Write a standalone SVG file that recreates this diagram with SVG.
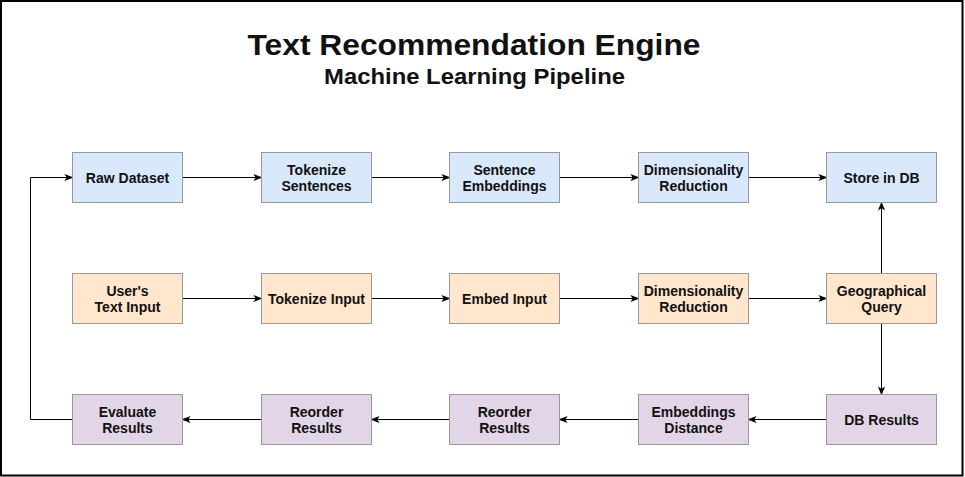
<svg xmlns="http://www.w3.org/2000/svg" width="965" height="477" viewBox="0 0 965 477">
<style>
.n rect{stroke:#999;stroke-width:1}
.b rect{fill:#dae8fc}
.o rect{fill:#ffe6cc}
.p rect{fill:#e1d5e7}
text{font-family:"Liberation Sans",Arial,sans-serif;font-weight:bold;fill:#111;text-anchor:middle}
.n text{font-size:14px}
.e{fill:none;stroke:#000;stroke-width:1;marker-end:url(#a)}
</style>
<defs>
<marker id="a" viewBox="0 0 10 10" refX="9" refY="5" markerWidth="9" markerHeight="9" markerUnits="userSpaceOnUse" orient="auto">
<path d="M0,1 L10,5 L0,9 L2.5,5 z" fill="#000"/>
</marker>
</defs>
<rect x="1" y="1" width="961.5" height="474.5" fill="#fff" stroke="#000" stroke-width="2"/>
<g id="title">
<text x="474" y="54.5" font-size="29" textLength="453" lengthAdjust="spacingAndGlyphs">Text Recommendation Engine</text>
<text x="474.5" y="84" font-size="22.5" textLength="301" lengthAdjust="spacingAndGlyphs">Machine Learning Pipeline</text>
</g>
<g id="connectors">
<path class="e" d="M182.5,177.5 H261.5"/>
<path class="e" d="M371.5,177.5 H449.5"/>
<path class="e" d="M559.5,177.5 H638.5"/>
<path class="e" d="M748.5,177.5 H826.5"/>
<path class="e" d="M182.5,298.5 H261.5"/>
<path class="e" d="M371.5,298.5 H449.5"/>
<path class="e" d="M559.5,298.5 H638.5"/>
<path class="e" d="M748.5,298.5 H826.5"/>
<path class="e" d="M881.5,273.5 V202.5"/>
<path class="e" d="M881.5,323.5 V394.5"/>
<path class="e" d="M826.5,419.5 H748.5"/>
<path class="e" d="M638.5,419.5 H559.5"/>
<path class="e" d="M449.5,419.5 H371.5"/>
<path class="e" d="M261.5,419.5 H182.5"/>
<path class="e" d="M72.5,419.5 H30.5 V177.5 H72.5"/>
</g>
<g id="raw-dataset" class="n b"><rect x="72.5" y="152.5" width="110" height="50"/><text x="127.5" y="182.5">Raw Dataset</text></g>
<g id="tokenize-sentences" class="n b"><rect x="261.5" y="152.5" width="110" height="50"/><text x="316.5" y="174.5">Tokenize</text><text x="316.5" y="190.5">Sentences</text></g>
<g id="sentence-embeddings" class="n b"><rect x="449.5" y="152.5" width="110" height="50"/><text x="504.5" y="174.5">Sentence</text><text x="504.5" y="190.5">Embeddings</text></g>
<g id="dim-reduction-1" class="n b"><rect x="638.5" y="152.5" width="110" height="50"/><text x="693.5" y="174.5">Dimensionality</text><text x="693.5" y="190.5">Reduction</text></g>
<g id="store-in-db" class="n b"><rect x="826.5" y="152.5" width="110" height="50"/><text x="881.5" y="182.5">Store in DB</text></g>
<g id="users-text-input" class="n o"><rect x="72.5" y="273.5" width="110" height="50"/><text x="127.5" y="295.5">User's</text><text x="127.5" y="311.5">Text Input</text></g>
<g id="tokenize-input" class="n o"><rect x="261.5" y="273.5" width="110" height="50"/><text x="316.5" y="303.5">Tokenize Input</text></g>
<g id="embed-input" class="n o"><rect x="449.5" y="273.5" width="110" height="50"/><text x="504.5" y="303.5">Embed Input</text></g>
<g id="dim-reduction-2" class="n o"><rect x="638.5" y="273.5" width="110" height="50"/><text x="693.5" y="295.5">Dimensionality</text><text x="693.5" y="311.5">Reduction</text></g>
<g id="geographical-query" class="n o"><rect x="826.5" y="273.5" width="110" height="50"/><text x="881.5" y="295.5">Geographical</text><text x="881.5" y="311.5">Query</text></g>
<g id="evaluate-results" class="n p"><rect x="72.5" y="394.5" width="110" height="50"/><text x="127.5" y="416.5">Evaluate</text><text x="127.5" y="432.5">Results</text></g>
<g id="reorder-results-1" class="n p"><rect x="261.5" y="394.5" width="110" height="50"/><text x="316.5" y="416.5">Reorder</text><text x="316.5" y="432.5">Results</text></g>
<g id="reorder-results-2" class="n p"><rect x="449.5" y="394.5" width="110" height="50"/><text x="504.5" y="416.5">Reorder</text><text x="504.5" y="432.5">Results</text></g>
<g id="embeddings-distance" class="n p"><rect x="638.5" y="394.5" width="110" height="50"/><text x="693.5" y="416.5">Embeddings</text><text x="693.5" y="432.5">Distance</text></g>
<g id="db-results" class="n p"><rect x="826.5" y="394.5" width="110" height="50"/><text x="881.5" y="424.5">DB Results</text></g>
</svg>
